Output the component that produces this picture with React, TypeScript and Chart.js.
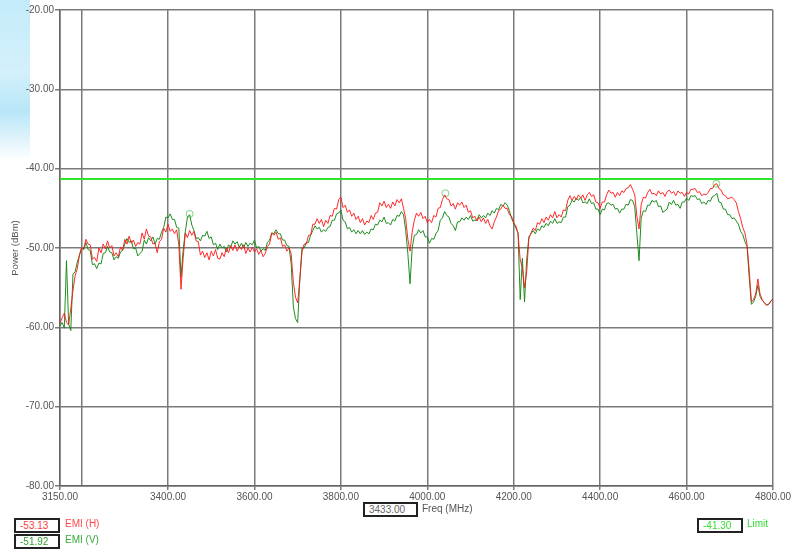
import { useEffect, useRef } from "react";
import { Chart, registerables } from "chart.js";

Chart.register(...registerables);

// Sweep: 3150 MHz .. 4800 MHz, one reading every 5 MHz
const sweepStartMHz = 3150;
const sweepStepMHz = 5;

const emiH = [
  -59.5, -58.8, -58.2, -59.4, -59.7, -57.6, -55.4, -53.5, -52.6, -50.9,
  -50.0, -50.1, -48.9, -49.5, -49.6, -51.4, -51.2, -51.7, -50.0, -50.6,
  -49.5, -50.1, -49.1, -50.0, -49.7, -51.0, -50.6, -51.1, -49.9, -50.3,
  -48.9, -49.5, -48.5, -49.4, -49.0, -49.8, -49.3, -49.5, -48.1, -48.9,
  -47.6, -48.5, -48.6, -49.5, -49.4, -50.6, -49.2, -48.9, -47.5, -48.0,
  -47.0, -47.9, -47.6, -48.2, -47.7, -49.6, -55.2, -51.3, -48.1, -48.7,
  -47.8, -48.4, -47.9, -49.1, -49.2, -50.9, -50.4, -51.2, -50.6, -51.5,
  -50.4, -51.0, -50.2, -51.3, -51.4, -50.6, -51.1, -50.0, -50.6, -49.7,
  -50.3, -49.6, -50.4, -49.8, -50.2, -49.6, -50.7, -50.0, -50.5, -49.9,
  -50.5, -50.1, -50.8, -50.3, -51.1, -50.7, -49.8, -49.5, -48.1, -48.4,
  -48.0, -48.9, -48.7, -49.8, -49.6, -50.4, -50.0, -50.7, -54.3, -56.2,
  -56.9, -54.0, -50.5, -49.5, -49.5, -48.4, -48.4, -47.0, -47.0, -46.3,
  -46.9, -46.4, -47.3, -46.5, -46.9, -45.9, -46.0, -45.0, -45.1, -43.9,
  -43.6, -44.9, -44.6, -45.5, -45.2, -46.0, -45.6, -46.4, -46.0, -46.8,
  -46.3, -47.1, -46.6, -46.8, -45.9, -46.4, -45.6, -45.5, -44.3, -44.7,
  -44.1, -44.9, -44.5, -45.0, -44.2, -44.7, -43.9, -44.3, -43.8, -45.0,
  -46.3, -48.9, -50.4, -48.0, -46.5, -45.6, -46.0, -45.5, -46.3, -46.0,
  -46.8, -46.4, -46.8, -45.9, -46.1, -45.0, -44.9, -43.9, -43.3, -43.8,
  -43.9, -44.7, -44.4, -45.1, -44.3, -44.6, -44.2, -44.9, -44.6, -45.5,
  -45.3, -46.2, -46.0, -46.6, -46.1, -46.7, -46.2, -46.9, -46.4, -47.2,
  -47.6, -46.7, -46.1, -45.3, -45.1, -44.6, -45.0, -45.0, -45.8, -46.0,
  -46.9, -47.2, -48.2, -51.5, -52.5, -55.0, -53.0, -48.8, -48.1, -47.5,
  -47.8, -46.8, -47.0, -46.3, -46.8, -46.1, -46.5, -45.8, -46.2, -45.4,
  -46.2, -45.8, -46.1, -45.2, -45.3, -44.0, -43.4, -44.0, -43.5, -43.9,
  -43.3, -43.7, -43.3, -44.0, -43.3, -43.0, -43.5, -43.3, -44.2, -44.3,
  -45.0, -44.2, -44.2, -43.3, -42.7, -43.1, -43.0, -43.6, -43.0, -43.4,
  -42.8, -43.0, -42.5, -42.4, -42.0, -42.6, -43.3, -46.0, -47.6, -44.5,
  -43.6, -43.7, -43.0, -42.6, -43.2, -43.1, -43.4, -42.8, -43.2, -43.0,
  -43.5, -42.9, -42.7, -43.1, -42.9, -43.4, -42.8, -43.1, -43.0, -43.5,
  -43.0, -43.2, -42.6, -42.6, -42.5, -43.0, -42.9, -43.4, -43.2, -43.3,
  -43.0, -42.5, -42.5, -42.0, -41.9, -42.5, -42.7, -43.3, -43.4, -43.8,
  -43.7, -43.6, -43.9, -44.3, -45.4, -46.3, -47.4, -48.1, -49.6, -52.8,
  -56.8, -56.5, -55.8, -53.9, -55.8, -56.5, -56.9, -57.2, -57.1, -56.7,
  -56.4,
];

const emiV = [
  -59.8, -59.4, -60.1, -51.6, -59.6, -60.4, -53.3, -53.0, -51.8, -50.9,
  -50.0, -50.2, -49.3, -50.2, -50.3, -52.1, -52.0, -52.6, -51.9, -52.0,
  -50.7, -50.6, -49.8, -50.5, -50.6, -51.5, -51.1, -51.3, -50.5, -50.3,
  -49.5, -48.8, -49.3, -49.1, -50.1, -50.0, -51.0, -50.7, -50.4, -49.0,
  -49.5, -48.7, -49.1, -48.6, -49.5, -48.8, -48.9, -48.0, -47.4, -46.1,
  -46.2, -45.7, -46.4, -46.4, -47.4, -47.5, -53.7, -50.3, -47.9, -46.1,
  -45.8, -47.1, -47.8, -48.8, -48.7, -49.1, -48.4, -48.5, -47.9, -48.8,
  -48.6, -49.6, -49.4, -50.2, -49.5, -50.0, -49.8, -50.5, -49.6, -49.9,
  -49.1, -49.5, -49.2, -49.9, -49.4, -50.0, -49.3, -49.8, -49.4, -49.6,
  -49.0, -50.0, -49.8, -50.4, -50.1, -50.3, -49.3, -49.0, -48.1, -48.2,
  -47.7, -48.2, -48.2, -49.0, -49.0, -49.7, -49.8, -52.0, -57.4, -58.9,
  -59.4, -54.0, -50.0, -50.0, -49.3, -49.3, -48.4, -47.8, -47.2, -47.6,
  -47.4, -48.0, -47.7, -47.9, -47.4, -47.3, -46.5, -46.5, -45.7, -45.6,
  -45.2, -46.5, -46.7, -47.6, -47.4, -48.0, -47.7, -48.2, -47.8, -48.2,
  -47.8, -48.3, -48.0, -48.2, -47.6, -47.7, -47.0, -47.1, -46.5, -46.7,
  -46.1, -46.9, -46.8, -47.1, -46.4, -46.6, -45.9, -46.0, -45.4, -45.8,
  -47.8, -50.7, -54.5, -50.0, -48.4, -48.3, -47.7, -48.1, -47.8, -48.6,
  -48.6, -49.4, -48.8, -48.9, -48.2, -47.8, -46.5, -46.2, -45.4, -45.9,
  -46.1, -46.9, -47.2, -47.8, -46.7, -46.7, -46.2, -46.5, -46.1, -46.4,
  -45.9, -46.6, -46.5, -46.5, -45.8, -46.2, -45.9, -46.2, -45.6, -45.9,
  -45.3, -45.6, -45.0, -45.2, -44.5, -44.7, -44.3, -44.6, -45.3, -46.3,
  -46.8, -47.5, -48.1, -56.5, -51.3, -56.8, -51.5, -48.6, -48.2, -47.8,
  -48.2, -47.6, -47.8, -47.2, -47.4, -46.9, -47.2, -46.6, -46.9, -46.3,
  -46.9, -46.7, -46.8, -46.1, -46.1, -44.8, -44.6, -44.0, -44.2, -43.7,
  -44.0, -43.6, -44.3, -44.2, -44.4, -43.8, -44.4, -44.3, -45.1, -45.1,
  -45.8, -45.1, -45.2, -44.4, -44.3, -44.6, -44.5, -45.1, -45.0, -45.6,
  -45.1, -45.1, -44.5, -44.6, -43.9, -44.0, -44.8, -48.2, -51.6, -46.2,
  -45.3, -45.4, -44.6, -44.6, -44.0, -44.2, -44.0, -44.8, -44.7, -45.5,
  -45.3, -45.1, -44.2, -44.5, -44.0, -44.6, -44.5, -45.0, -44.2, -44.2,
  -43.7, -44.0, -43.4, -43.5, -43.4, -43.9, -43.8, -44.4, -44.2, -44.5,
  -44.0, -44.1, -43.5, -43.4, -43.1, -44.2, -44.3, -45.1, -45.1, -45.8,
  -45.8, -46.3, -46.2, -46.6, -47.0, -47.9, -48.3, -49.2, -49.8, -53.7,
  -57.1, -56.8, -56.1, -54.7, -56.1, -56.6, -56.9, -57.2, -57.1, -56.7,
  -56.4,
];

const limitDbm = -41.3;
const markerFreqMHz = [3450, 4042, 4669];
const markerDbm = [-45.7, -43.1, -41.9];

const xTickValues = [3150, 3200, 3400, 3600, 3800, 4000, 4200, 4400, 4600, 4800];
const xLabelValues = [3150, 3400, 3600, 3800, 4000, 4200, 4400, 4600, 4800];
const yTickValues = [-80, -70, -60, -50, -40, -30, -20];

const readoutH = "-53.13";
const readoutV = "-51.92";
const readoutFreq = "3433.00";
const readoutLimit = "-41.30";

const freqMHz = emiH.map((_, i) => sweepStartMHz + i * sweepStepMHz);

const FONT = "'Liberation Sans', Arial, sans-serif";
const GRID = "#7a7a7a";

export default function App() {
  const ref = useRef<HTMLCanvasElement | null>(null);

  useEffect(() => {
    if (!ref.current) return;
    const chart = new Chart(ref.current, {
      type: "line",
      data: {
        datasets: [
          {
            label: "Limit",
            data: [
              { x: xTickValues[0], y: limitDbm },
              { x: xTickValues[xTickValues.length - 1], y: limitDbm },
            ],
            borderColor: "#2fe62f",
            borderWidth: 2,
            pointRadius: 0,
          },
          {
            label: "EMI (H)",
            data: freqMHz.map((f, i) => ({ x: f, y: emiH[i] })),
            borderColor: "rgba(255,20,20,0.9)",
            borderWidth: 1,
            pointRadius: 0,
            tension: 0,
          },
          {
            label: "EMI (V)",
            data: freqMHz.map((f, i) => ({ x: f, y: emiV[i] })),
            borderColor: "rgba(20,135,20,0.95)",
            borderWidth: 1,
            pointRadius: 0,
            tension: 0,
          },
          {
            label: "Peaks",
            data: markerFreqMHz.map((f, i) => ({ x: f, y: markerDbm[i] })),
            showLine: false,
            pointRadius: 3.5,
            pointBorderWidth: 1,
            pointBorderColor: "#7ad67a",
            pointBackgroundColor: "rgba(0,0,0,0)",
          },
        ],
      },
      options: {
        animation: false,
        responsive: false,
        layout: { padding: { left: 0, right: 20, top: 10, bottom: 45 } },
        plugins: { legend: { display: false }, tooltip: { enabled: false } },
        scales: {
          x: {
            type: "linear",
            min: 3150,
            max: 4800,
            afterBuildTicks: (s: any) => {
              s.ticks = xTickValues.map((v) => ({ value: v }));
            },
            afterFit: (s: any) => {
              s.height = 20;
            },
            ticks: {
              autoSkip: false,
              maxRotation: 0,
              padding: 1,
              color: "#555",
              font: { family: FONT, size: 10 },
              callback: (v: any) =>
                xLabelValues.includes(Number(v)) ? Number(v).toFixed(2) : "",
            },
            grid: {
              color: GRID,
              lineWidth: 1.5,
              tickLength: 4,
              tickColor: (ctx: any) =>
                ctx.tick && ctx.tick.value === 3200 ? "rgba(0,0,0,0)" : GRID,
            },
            border: { color: "#666", width: 1.5 },
          },
          y: {
            min: -80,
            max: -20,
            afterBuildTicks: (s: any) => {
              s.ticks = yTickValues.map((v) => ({ value: v }));
            },
            afterFit: (s: any) => {
              s.width = 60;
            },
            ticks: {
              padding: 1,
              color: "#555",
              font: { family: FONT, size: 10 },
              callback: (v: any) => Number(v).toFixed(2),
            },
            grid: { color: GRID, lineWidth: 1.5, tickLength: 5 },
            border: { color: "#666", width: 1.5 },
            title: {
              display: true,
              text: "Power (dBm)",
              color: "#555",
              font: { family: FONT, size: 9.5 },
              padding: { top: 10, bottom: 0 },
            },
          },
        },
      },
    });
    return () => chart.destroy();
  }, []);

  const txt = (color: string): React.CSSProperties => ({
    position: "absolute",
    fontFamily: FONT,
    fontSize: 10,
    lineHeight: "12px",
    color,
    whiteSpace: "nowrap",
  });
  const box = (left: number, top: number, width: number): React.CSSProperties => ({
    position: "absolute",
    left,
    top,
    width,
    height: 11,
    border: "2px solid #222",
    background: "#fff",
    fontFamily: FONT,
    fontSize: 10,
    lineHeight: "11px",
    paddingLeft: 4,
    boxSizing: "content-box",
    whiteSpace: "nowrap",
  });

  return (
    <div
      style={{
        position: "fixed",
        left: 0,
        top: 0,
        width: 793,
        height: 551,
        background: "#fff",
        overflow: "hidden",
      }}
    >
      <div
        style={{
          position: "absolute",
          left: 0,
          top: 0,
          width: 30,
          height: 160,
          background:
            "linear-gradient(to bottom, #c4ebfa 0%, #d3f0fb 45%, #b8e6f8 70%, rgba(255,255,255,0) 100%)",
        }}
      />
      <canvas ref={ref} width={793} height={551} style={{ position: "absolute", left: 0, top: 0 }} />
      <div style={{ ...box(14, 518, 38), color: "#ff3b3b" }}>{readoutH}</div>
      <div style={{ ...txt("#ff4a4a"), left: 65, top: 518 }}>EMI (H)</div>
      <div style={{ ...box(14, 534, 38), color: "#2f9f2f" }}>{readoutV}</div>
      <div style={{ ...txt("#3aa83a"), left: 65, top: 534 }}>EMI (V)</div>
      <div style={{ ...box(363, 502, 47), color: "#666" }}>{readoutFreq}</div>
      <div style={{ ...txt("#555"), left: 422, top: 503 }}>Freq (MHz)</div>
      <div style={{ ...box(697, 518, 38), color: "#33dd33" }}>{readoutLimit}</div>
      <div style={{ ...txt("#33dd33"), left: 747, top: 518 }}>Limit</div>
    </div>
  );
}
